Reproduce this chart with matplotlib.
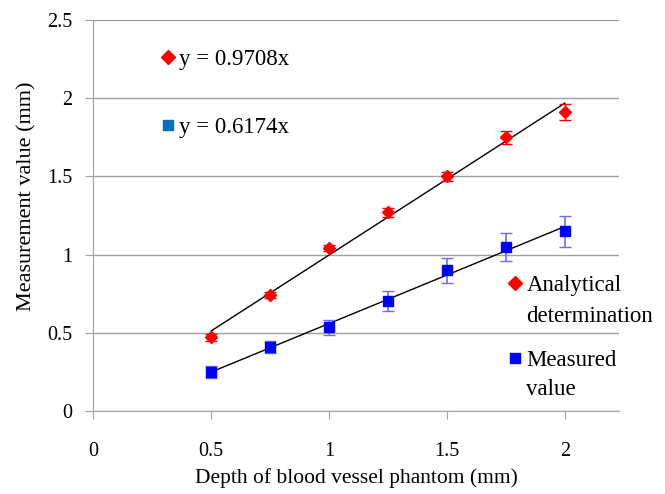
import matplotlib.pyplot as plt
import numpy as np
from matplotlib.lines import Line2D

plt.rcParams['font.family'] = ['Liberation Serif', 'DejaVu Serif']

depth = [0.5, 0.75, 1.0, 1.25, 1.5, 1.75, 2.0]
analytical = [0.47, 0.74, 1.04, 1.27, 1.50, 1.75, 1.91]
analytical_err = [0.02, 0.02, 0.02, 0.03, 0.03, 0.04, 0.05]
measured = [0.25, 0.41, 0.535, 0.705, 0.90, 1.05, 1.15]
measured_err = [0.04, 0.04, 0.05, 0.065, 0.08, 0.09, 0.10]
eq_labels = ['y = 0.9708x', 'y = 0.6174x']
series_a = ['Analytical', 'determination']
series_b = ['Measured', 'value']

fig = plt.figure(figsize=(6.65, 4.94), dpi=100)
ax = fig.add_axes([0.14, 0.168, 0.791, 0.7915])

x = np.array(depth)

# trend lines (least squares)
for ys in (analytical, measured):
    k, b = np.polyfit(x, ys, 1)
    ax.plot([x[0], x[-1]], [k * x[0] + b, k * x[-1] + b], color='black', lw=1, zorder=2)

ax.errorbar(depth, analytical, yerr=analytical_err, fmt='D', color='red', ms=6.5,
            ecolor='red', elinewidth=1, capsize=4, zorder=3)
ax.errorbar(depth, measured, yerr=measured_err, fmt='s', color='#0000ff', ms=7.5,
            ecolor='#6c6cff', elinewidth=1.2, capsize=4, zorder=3)

ax.set_xlim(0, 2.23)
ax.set_ylim(0, 2.5)
ax.set_xticks([0, 0.5, 1, 1.5, 2])
ax.set_xticklabels(['0', '0.5', '1', '1.5', '2'])
ax.set_yticks([0, 0.5, 1, 1.5, 2, 2.5])
ax.set_yticklabels(['0', '0.5', '1', '1.5', '2', '2.5'])
ax.yaxis.grid(True, color='#a0a0a0', lw=1)
ax.set_axisbelow(True)
for s in ('top', 'right'):
    ax.spines[s].set_visible(False)
for s in ('left', 'bottom'):
    ax.spines[s].set_color('#a0a0a0')
ax.tick_params(axis='both', colors='#a0a0a0', labelcolor='black', labelsize=14.5,
               length=6, direction='out')
ax.tick_params(axis='x', pad=16)
ax.tick_params(axis='y', pad=9)
ax.set_xlabel('Depth of blood vessel phantom (mm)', fontsize=15.5)
ax.set_ylabel('Measurement value (mm)', fontsize=16)
ax.xaxis.set_label_coords(0.5, -0.145)
ax.yaxis.set_label_coords(-0.108, 0.549)

blank = Line2D([], [], ls='none')
common = dict(frameon=False, fontsize=16.5, handlelength=0.6, handletextpad=0.2,
              borderaxespad=0, borderpad=0, loc='center left')

# equation legend
eq_handles = [Line2D([], [], ls='none', marker='D', color='red', ms=7),
              Line2D([], [], ls='none', marker='s', color='#0070c0', ms=7.5)]
leg1 = ax.legend(eq_handles, eq_labels, bbox_to_anchor=(0.129, 0.811),
                 labelspacing=2.05, **common)
ax.add_artist(leg1)

leg2 = ax.legend([Line2D([], [], ls='none', marker='D', color='red', ms=7), blank],
                 series_a, bbox_to_anchor=(0.789, 0.281), labelspacing=0.45, **common)
ax.add_artist(leg2)
ax.legend([Line2D([], [], ls='none', marker='s', color='#0000ff', ms=7.5), blank],
          series_b, bbox_to_anchor=(0.789, 0.091), labelspacing=0.35, **common)

fig.savefig('out.png', dpi=100)
